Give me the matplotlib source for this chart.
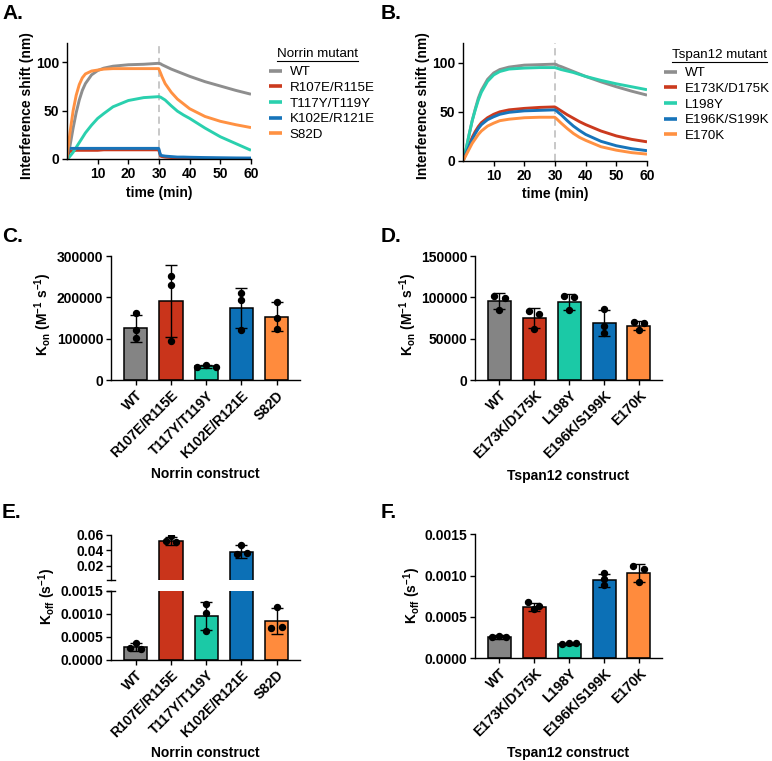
import matplotlib
matplotlib.use("Agg")
import matplotlib.pyplot as plt
from matplotlib.lines import Line2D
from matplotlib.ticker import FormatStrFormatter

plt.rcParams['font.family'] = ['Liberation Sans', 'DejaVu Sans']
plt.rcParams['mathtext.fontset'] = 'custom'
plt.rcParams['mathtext.rm'] = 'Liberation Sans:bold'
plt.rcParams['mathtext.it'] = 'Liberation Sans:bold'
plt.rcParams['mathtext.bf'] = 'Liberation Sans:bold'

# ---------------- data ----------------
time_pts = [0, 0.5, 1, 2, 3, 4, 5, 6, 8, 10, 12, 15, 20, 25, 29.9, 30.5, 31, 32, 34, 36, 38, 40, 45, 50, 55, 60]

norrin_mutants = ["WT", "R107E/R115E", "T117Y/T119Y", "K102E/R121E", "S82D"]
norrin_wt = [0, 6, 14, 32, 48, 61, 71, 78, 87, 91.5, 94, 96, 97.5, 98, 99, 98.5, 97.5, 96, 93, 90.5, 88, 85.5, 80, 75.5, 71, 67]
norrin_r107e = [0, 6, 8, 8.5, 9, 9, 9, 9, 9, 9, 9.5, 9.5, 9.5, 9.5, 9.5, 3, 2.5, 2, 1.5, 1.2, 1, 1, 0.7, 0.5, 0.3, 0]
norrin_t117y = [0, 1, 3, 7, 12, 17, 22, 27, 35, 42, 47, 54, 60.5, 63.5, 64.5, 64, 63, 61, 55, 49.5, 45.5, 42, 32, 23, 16, 9]
norrin_k102e = [0, 10, 11, 11, 11, 11, 11, 11, 11, 11, 11, 11, 11, 11, 11, 4, 3.5, 3, 2.5, 2, 2, 1.8, 1.5, 1.3, 1.1, 1]
norrin_s82d = [0, 15, 28, 50, 66, 77, 84, 88, 91, 92, 93, 93.5, 93.5, 93.5, 93.5, 89, 85, 78, 69, 62, 57, 52, 44, 39, 35.5, 32.5]

tspan_mutants = ["WT", "E173K/D175K", "L198Y", "E196K/S199K", "E170K"]
tspan_wt = [0, 6, 12, 27, 41, 53, 64, 72, 83, 89.5, 93, 95.5, 97.5, 98, 98.5, 98, 97, 96, 93.5, 91, 88.5, 86, 80.5, 75.5, 71, 67]
tspan_e173k = [0, 4, 8, 16, 24, 30, 35, 39, 44, 47.5, 50, 52, 53.5, 54.5, 55, 54, 53, 51, 47, 43.5, 40, 37, 30.5, 25.5, 22, 19.5]
tspan_l198y = [0, 6, 12, 27, 41, 52, 62, 70, 81, 87.5, 91, 93.5, 94.5, 95, 95, 94.5, 94, 93, 91.5, 90, 88, 86, 82, 78.5, 75.5, 72.5]
tspan_e196k = [0, 4, 8, 15, 22, 28, 33, 37, 42, 45, 47.5, 49.5, 51, 51.5, 52, 51, 49.5, 47, 41, 35.5, 31, 27, 20, 15.5, 12.5, 10.5]
tspan_e170k = [0, 3, 6, 12, 18, 22.5, 27, 30.5, 35.5, 38.5, 41, 42.5, 44, 44.5, 44.5, 43, 41.5, 38.5, 33, 28, 24, 21, 14.5, 11, 8.5, 7]

# Kon (M-1 s-1)
norrin_kon_mean = [125000, 191000, 33000, 174000, 153000]
norrin_kon_sd = [33000, 86500, 3000, 48000, 35000]
norrin_kon_pts = [[162000, 122000, 101000], [252000, 231000, 94000], [31000, 36000, 32000],
                  [211000, 194000, 122000], [188000, 150000, 123000]]
tspan_kon_mean = [95500, 74500, 94500, 69000, 65500]
tspan_kon_sd = [9500, 12000, 9500, 16000, 5500]
tspan_kon_pts = [[102000, 99500, 85000], [84000, 79500, 62000], [101500, 100500, 84500],
                 [85500, 65500, 56500], [70000, 68500, 60000]]

# Koff (s-1)
norrin_koff_mean = [0.00028, 0.0518, 0.00095, 0.0378, 0.00084]
norrin_koff_sd = [0.00009, 0.0057, 0.00031, 0.0084, 0.00029]
norrin_koff_pts = [[0.00037, 0.00025, 0.00024], [0.0578, 0.0517, 0.0512], [0.00101, 0.00062, 0.00122],
                   [0.0462, 0.0355, 0.0366], [0.00114, 0.00069, 0.00072]]
tspan_koff_mean = [0.000255, 0.00062, 0.00017, 0.00094, 0.00103]
tspan_koff_sd = [0.000022, 0.000048, 0.000010, 0.000075, 0.000105]
tspan_koff_pts = [[0.000265, 0.00025, 0.00025], [0.00068, 0.00063, 0.00059], [0.00017, 0.000185, 0.00018],
                  [0.00103, 0.00096, 0.00088], [0.00112, 0.00108, 0.00092]]

# ---------------- style ----------------
bar_colors = ['#848484', '#C9341B', '#1BC9A6', '#0C70B6', '#FF8B3D']
line_colors = ['#8e8e8e', '#CB3A1E', '#2AD0AE', '#1774BA', '#FF9142']

# point horizontal spread (fraction of bar spacing)
spread_C = [[0, 0, 0], [0, 0, 0], [-0.27, 0, 0.27], [0, 0, 0], [0, 0, 0]]
spread_D = [[-0.15, 0.16, 0], [-0.15, 0.13, 0], [-0.15, 0.13, 0], [0, 0, 0], [-0.15, 0.13, 0]]
spread_E = [[0, -0.15, 0.15], [0, -0.14, 0.14], [0, 0, 0], [0, -0.13, 0.17], [0, -0.16, 0.16]]
spread_F = [[0, -0.2, 0.2], [-0.17, 0.13, 0], [-0.2, 0, 0.2], [0, 0, 0], [-0.17, 0.13, 0]]

W, H = 772, 761
fig = plt.figure(figsize=(W / 100, H / 100), dpi=100)

FS = 10
LFS = 9.6
LW = 1.0


def add_ax(l, t, r, b):
    return fig.add_axes([l / W, 1 - b / H, (r - l) / W, (b - t) / H])


def bold_ticks(ax):
    for lab in ax.get_yticklabels() + ax.get_xticklabels():
        lab.set_fontweight('bold')


def style(ax):
    for s in ['top', 'right']:
        ax.spines[s].set_visible(False)
    for s in ['left', 'bottom']:
        ax.spines[s].set_linewidth(LW)
    ax.tick_params(width=LW, length=3.5, labelsize=FS, pad=2)
    bold_ticks(ax)


def ftext(x, y, s, **kw):
    return fig.text(x / W, 1 - y / H, s, **kw)


# ---------------- kinetics ----------------
def kinetics(ax, series, labels, legend_x, legend_top, title, title_x, title_y):
    ax.axvline(30, color='#c4c4c4', lw=1.3, ls=(0, (4, 2.5)), zorder=1)
    handles = []
    for vals, lab, c in zip(series, labels, line_colors):
        h, = ax.plot(time_pts, vals, color=c, lw=2.1, label=lab, solid_capstyle='butt', zorder=2)
        handles.append(h)
    ax.set_xlim(0, 60)
    ax.set_ylim(0, 120)
    ax.set_xticks([10, 20, 30, 40, 50, 60])
    ax.set_yticks([0, 50, 100])
    style(ax)
    leg = ax.legend(handles=handles, loc='upper left',
                    bbox_to_anchor=(legend_x / W, 1 - legend_top / H), bbox_transform=fig.transFigure,
                    frameon=False, fontsize=LFS, handlelength=1.0, handletextpad=0.55,
                    labelspacing=0.25, borderpad=0, borderaxespad=0)
    for ln in leg.get_lines():
        ln.set_linewidth(2.6)
    t = ftext(title_x, title_y, title, fontsize=LFS, ha='left', va='center')
    return t


axA = add_ax(67, 43, 251, 159)
tA = kinetics(axA, [norrin_wt, norrin_r107e, norrin_t117y, norrin_k102e, norrin_s82d], norrin_mutants,
              269, 66, "Norrin mutant", 277, 54)
axB = add_ax(463, 43, 647, 161)
tB = kinetics(axB, [tspan_wt, tspan_e173k, tspan_l198y, tspan_e196k, tspan_e170k], tspan_mutants,
              664, 67, "Tspan12 mutant", 672, 55)

ftext(27, 106, "Interference shift (nm)", rotation=90, ha='center', va='center', fontsize=FS, fontweight='bold')
ftext(423, 106, "Interference shift (nm)", rotation=90, ha='center', va='center', fontsize=FS, fontweight='bold')
ftext(159, 193, "time (min)", ha='center', va='center', fontsize=FS, fontweight='bold')
ftext(555, 194, "time (min)", ha='center', va='center', fontsize=FS, fontweight='bold')


# ---------------- bars ----------------
def bars(ax, means, sds, pts, spread, labels, show_x=True, clip_below=None):
    x = list(range(len(means)))
    ax.bar(x, means, width=0.66, color=bar_colors, edgecolor='black', linewidth=1.1, zorder=1)
    for i in x:
        if clip_below is not None and means[i] < clip_below:
            continue
        ax.errorbar([i], [means[i]], yerr=[[sds[i]], [sds[i]]], fmt='none', ecolor='black',
                    elinewidth=1.0, capsize=4.5, capthick=1.0, zorder=2)
        xs = [i + d for d in spread[i]]
        ax.plot(xs, pts[i], 'o', color='black', ms=4.3, zorder=3, clip_on=True)
    ax.set_xlim(-0.7, 4.66)
    ax.set_xticks(x)
    if show_x:
        ax.set_xticklabels(labels, rotation=45, ha='right', rotation_mode='anchor')
    style(ax)
    if show_x:
        ax.tick_params(axis='x', pad=2.5)


axC = add_ax(111, 256, 300, 380)
bars(axC, norrin_kon_mean, norrin_kon_sd, norrin_kon_pts, spread_C, norrin_mutants)
axC.set_ylim(0, 300000)
axC.set_yticks([0, 100000, 200000, 300000])
axC.yaxis.set_major_formatter(FormatStrFormatter('%d'))
bold_ticks(axC)

axD = add_ax(475, 256, 662, 380)
bars(axD, tspan_kon_mean, tspan_kon_sd, tspan_kon_pts, spread_D, tspan_mutants)
axD.set_ylim(0, 150000)
axD.set_yticks([0, 50000, 100000, 150000])
axD.yaxis.set_major_formatter(FormatStrFormatter('%d'))
bold_ticks(axD)

kon_label = r'$\mathrm{K_{on}\ (M^{-1}\ s^{-1})}$'
ftext(43, 314, kon_label, rotation=90, ha='center', va='center', fontsize=FS)
ftext(408, 314, kon_label, rotation=90, ha='center', va='center', fontsize=FS)
ftext(205, 474, "Norrin construct", ha='center', va='center', fontsize=FS, fontweight='bold')
ftext(568, 476, "Tspan12 construct", ha='center', va='center', fontsize=FS, fontweight='bold')

# E broken axis
axEu = add_ax(111, 534.7, 300, 580)
axEl = add_ax(111, 590.7, 300, 659.7)
bars(axEu, norrin_koff_mean, norrin_koff_sd, norrin_koff_pts, spread_E, norrin_mutants, show_x=False,
     clip_below=0.0015)
axEu.set_ylim(0.0016, 0.06)
axEu.set_yticks([0.02, 0.04, 0.06])
axEu.yaxis.set_major_formatter(FormatStrFormatter('%.2f'))
axEu.spines['bottom'].set_visible(False)
axEu.tick_params(axis='x', bottom=False, labelbottom=False)
bold_ticks(axEu)

bars(axEl, norrin_koff_mean, norrin_koff_sd, norrin_koff_pts, spread_E, norrin_mutants)
axEl.set_ylim(0, 0.0015)
axEl.set_yticks([0, 0.0005, 0.0010, 0.0015])
axEl.yaxis.set_major_formatter(FormatStrFormatter('%.4f'))
bold_ticks(axEl)

d = 0.022
axEu.plot([-d, d], [0, 0], transform=axEu.transAxes, color='black', lw=LW, clip_on=False)
axEl.plot([-d, d], [1, 1], transform=axEl.transAxes, color='black', lw=LW, clip_on=False)

axF = add_ax(475, 534.3, 662, 658)
bars(axF, tspan_koff_mean, tspan_koff_sd, tspan_koff_pts, spread_F, tspan_mutants)
axF.set_ylim(0, 0.0015)
axF.set_yticks([0, 0.0005, 0.0010, 0.0015])
axF.yaxis.set_major_formatter(FormatStrFormatter('%.4f'))
bold_ticks(axF)

koff_label = r'$\mathrm{K_{off}\ (s^{-1})}$'
ftext(47, 597, koff_label, rotation=90, ha='center', va='center', fontsize=FS)
ftext(412, 596, koff_label, rotation=90, ha='center', va='center', fontsize=FS)
ftext(205, 753, "Norrin construct", ha='center', va='center', fontsize=FS, fontweight='bold')
ftext(568, 753, "Tspan12 construct", ha='center', va='center', fontsize=FS, fontweight='bold')

# panel letters
for s, x, y in [("A.", 2, 4), ("B.", 381, 4), ("C.", 2, 227), ("D.", 381, 227), ("E.", 2, 503), ("F.", 381, 503)]:
    ftext(x, y, s, fontsize=15, fontweight='bold', ha='left', va='top')

# underline legend titles
fig.canvas.draw()
r = fig.canvas.get_renderer()
for t in (tA, tB):
    bb = t.get_window_extent(renderer=r)
    fig.add_artist(Line2D([bb.x0 / W, bb.x1 / W], [(bb.y0 - 0.5) / H, (bb.y0 - 0.5) / H],
                          transform=fig.transFigure, color='black', lw=0.8))

fig.savefig("out.png", dpi=100)
